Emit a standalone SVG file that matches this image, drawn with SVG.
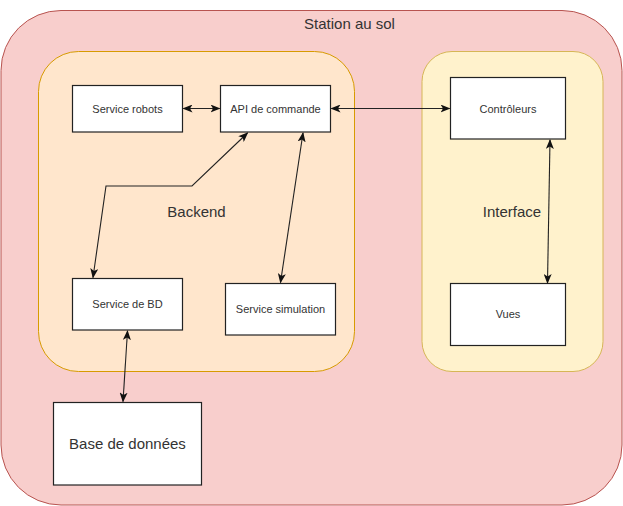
<svg xmlns="http://www.w3.org/2000/svg" width="623" height="506" viewBox="0 0 623 506">
<style>
.lbl{font-family:"Liberation Sans",Arial,sans-serif;fill:#333;text-anchor:middle}
.n{font-size:11px}
.big{font-size:15px}
.box{fill:#fff;stroke:#222;stroke-width:1.2}
.edge{fill:none;stroke:#222;stroke-width:1.1}
</style>
<defs>
<marker id="ah" viewBox="0 0 10 8" refX="9" refY="4" markerWidth="10" markerHeight="8" markerUnits="userSpaceOnUse" orient="auto-start-reverse">
<path d="M0,0 L10,4 L0,8 L2.5,4 z" fill="#111"/>
</marker>
</defs>
<g id="station">
<rect x="1" y="10.5" width="621" height="494.5" rx="60" ry="60" fill="#f8cecc" stroke="#b85450" stroke-width="1"/>
<text class="lbl big" x="349.5" y="29">Station au sol</text>
</g>
<g id="backend">
<rect x="38.5" y="51.5" width="316" height="320" rx="40" ry="40" fill="#ffe6cc" stroke="#d79b00" stroke-width="1"/>
<text class="lbl big" x="196.5" y="217">Backend</text>
</g>
<g id="interface">
<rect x="422" y="51.5" width="181" height="320" rx="30" ry="30" fill="#fff2cc" stroke="#d6b656" stroke-width="1"/>
<text class="lbl big" x="512" y="217">Interface</text>
</g>
<g id="service-robots">
<rect class="box" x="72.5" y="85.5" width="110" height="46.5"/>
<text class="lbl n" x="127.5" y="112.5">Service robots</text>
</g>
<g id="api-commande">
<rect class="box" x="220.5" y="85.5" width="110" height="46.5"/>
<text class="lbl n" x="275.5" y="112.5">API de commande</text>
</g>
<g id="controleurs">
<rect class="box" x="450.5" y="77.5" width="115" height="61.5"/>
<text class="lbl n" x="508" y="112.5">Contrôleurs</text>
</g>
<g id="service-bd">
<rect class="box" x="72.5" y="278.5" width="110" height="51.5"/>
<text class="lbl n" x="127.5" y="308">Service de BD</text>
</g>
<g id="service-simulation">
<rect class="box" x="225.5" y="283.5" width="110" height="51.5"/>
<text class="lbl n" x="280.5" y="313">Service simulation</text>
</g>
<g id="vues">
<rect class="box" x="450.5" y="283.5" width="115" height="62"/>
<text class="lbl n" x="508" y="318">Vues</text>
</g>
<g id="base-donnees">
<rect class="box" x="53.5" y="402.5" width="148" height="82.5"/>
<text class="lbl big" x="127.5" y="449">Base de données</text>
</g>
<g id="connectors">
<path class="edge" d="M183.5,108.5 L219.5,108.5" marker-start="url(#ah)" marker-end="url(#ah)"/>
<path class="edge" d="M331.5,108.5 L449.5,108.5" marker-start="url(#ah)" marker-end="url(#ah)"/>
<path class="edge" d="M247.5,133 L192,186 L106,186 L93,277.5" marker-start="url(#ah)" marker-end="url(#ah)"/>
<path class="edge" d="M303,133 L280.5,282.5" marker-start="url(#ah)" marker-end="url(#ah)"/>
<path class="edge" d="M550,140 L547.5,283" marker-start="url(#ah)" marker-end="url(#ah)"/>
<path class="edge" d="M127.5,331 L123,401.5" marker-start="url(#ah)" marker-end="url(#ah)"/>
</g>
</svg>
